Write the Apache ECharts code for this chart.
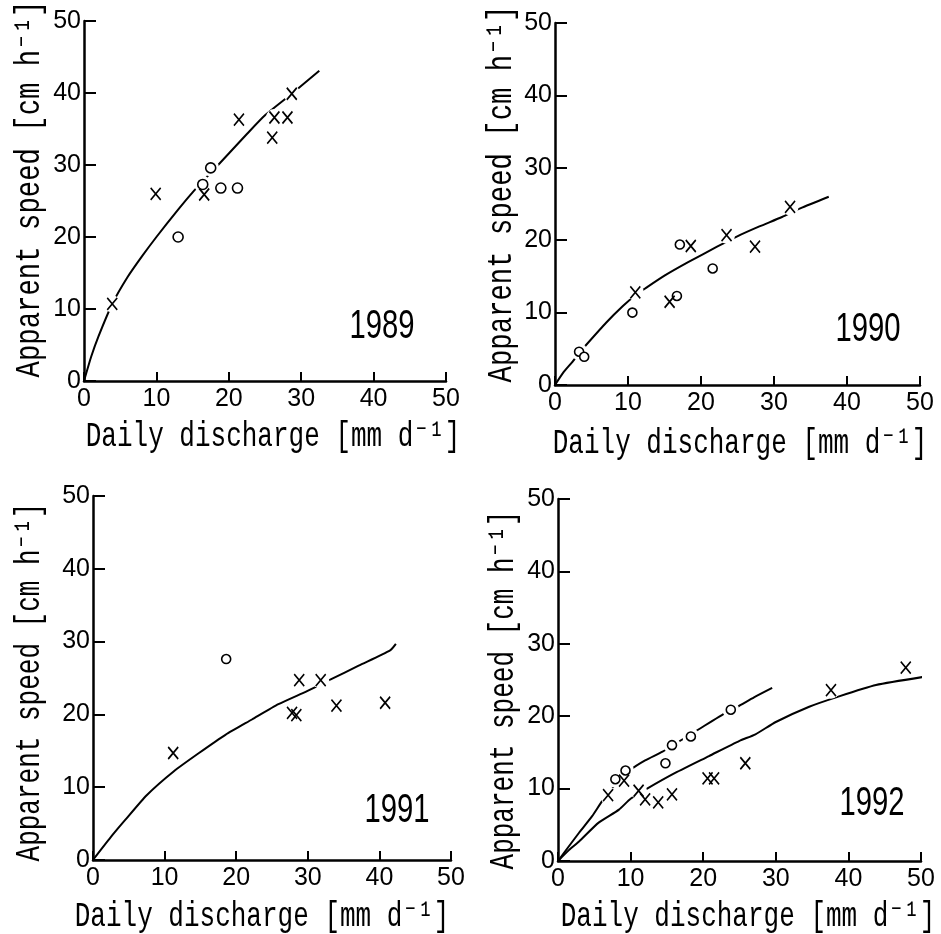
<!DOCTYPE html>
<html>
<head>
<meta charset="utf-8">
<script src="https://cdn.jsdelivr.net/npm/echarts@6/dist/echarts.min.js"></script>
<style>
  html, body { margin: 0; padding: 0; background: #fff; }
  #chart { width: 941px; height: 934px; }
</style>
</head>
<body>
<div id="chart"></div>
<script>
// Apparent speed of the wetting front vs. daily discharge, one panel per year.
// x = daily discharge [mm/d], y = apparent speed [cm/h]

const years = ['1989', '1990', '1991', '1992'];
const axisTicks = [0, 10, 20, 30, 40, 50];

// 1989
const cross1989 = [[3.9, 10.7], [9.9, 26.0], [16.6, 25.9], [21.4, 36.3], [26.0, 33.8], [26.3, 36.6], [28.1, 36.6], [28.7, 39.9]];
const circle1989 = [[13.0, 20.0], [16.4, 27.3], [17.5, 29.6], [18.9, 26.8], [21.2, 26.8]];
const curve1989 = [[0, 0], [1, 3.4], [2, 6.2], [3.9, 10.7], [6, 14.4], [8, 17.3], [10, 20.0], [13, 23.8], [15, 26.2], [17.5, 28.9], [20, 31.6], [22.5, 34.3], [25, 36.9], [28.7, 39.9], [32.5, 43.1]];

// 1990
const cross1990 = [[11.0, 12.8], [15.7, 11.5], [18.6, 19.2], [23.5, 20.7], [27.4, 19.1], [32.2, 24.6]];
const circle1990 = [[3.3, 4.6], [4.0, 3.9], [10.6, 10.0], [16.7, 12.3], [17.1, 19.4], [21.6, 16.1]];
const curve1990 = [[0, 0], [1.2, 1.8], [2.3, 3.1], [3.3, 4.4], [4.5, 5.8], [7.0, 8.6], [9.3, 10.9], [11.0, 12.4], [12.3, 13.3], [15.0, 15.1], [18.3, 17.0], [22.2, 19.1], [24.9, 20.5], [28.0, 21.9], [31.1, 23.2], [33.6, 24.4], [37.5, 26.0]];

// 1991
const cross1991 = [[11.2, 14.7], [27.8, 20.2], [28.4, 19.9], [28.8, 24.7], [31.8, 24.7], [34.0, 21.2], [40.8, 21.6]];
const circle1991 = [[18.6, 27.6]];
const curve1991 = [[0, 0], [2.7, 3.4], [4.5, 5.5], [7.5, 8.9], [11.3, 12.2], [14.8, 14.7], [18.5, 17.2], [22.2, 19.3], [25.9, 21.4], [29.9, 23.2], [33.2, 24.8], [37.1, 26.7], [41.5, 28.8], [42.3, 29.7]];

// 1992: two groups, each with its own fitted curve
const cross1992 = [[6.9, 9.1], [9.1, 11.1], [11.1, 9.7], [12.0, 8.5], [13.8, 8.1], [15.7, 9.2], [20.6, 11.4], [21.5, 11.4], [25.8, 13.5], [37.6, 23.6], [47.9, 26.7]];
const circle1992 = [[7.9, 11.3], [9.3, 12.5], [14.8, 13.5], [15.7, 16.0], [18.3, 17.2], [23.8, 20.9]];
const curve1992Circle = [[0, 0], [1.4, 1.9], [2.9, 3.9], [4.7, 6.2], [6.1, 8.3], [8.0, 10.7], [10.0, 12.6], [12.0, 13.9], [14.4, 15.1], [16.5, 16.4], [19.4, 18.2], [23.3, 20.6], [24.7, 21.3], [27.0, 22.6], [29.5, 23.9]];
const curve1992Cross = [[0, 0], [1.5, 1.5], [2.9, 2.7], [5.6, 5.3], [8.4, 7.1], [10.0, 8.6], [12.1, 9.9], [16.2, 12.2], [20.8, 14.5], [25.0, 16.6], [27.2, 17.5], [30.0, 19.2], [34.6, 21.3], [38.3, 22.6], [43.8, 24.3], [50.8, 25.5]];

const panels = [
  { cross: cross1989, circle: circle1989, curves: [curve1989] },
  { cross: cross1990, circle: circle1990, curves: [curve1990] },
  { cross: cross1991, circle: circle1991, curves: [curve1991] },
  { cross: cross1992, circle: circle1992, curves: [curve1992Circle, curve1992Cross] }
];

// plot areas (pixels)
const grids = [
  { left: 84, top: 21, width: 362, height: 360 },
  { left: 555, top: 23, width: 365, height: 362 },
  { left: 93, top: 496, width: 358, height: 364 },
  { left: 558, top: 499, width: 363, height: 362 }
];

// axis-title and year-label anchors, plus the along-text stretch of the y title
const layout = [
  { xt: [273, 437], yt: [30, 189], ys: 1.05, yr: [382, 327] },
  { xt: [740, 444], yt: [502, 194], ys: 1.05, yr: [868, 330] },
  { xt: [262, 917], yt: [30, 682], ys: 1.0, yr: [397, 811] },
  { xt: [748, 917], yt: [504, 690], ys: 1.0, yr: [872, 804] }
];

const tickFont = '"Liberation Sans", Arial, sans-serif';
const titleFont = '"Liberation Mono", "DejaVu Sans Mono", monospace';
const X_PATH = 'path://M0,0L10,12M10,0L0,12';

const xAxes = [], yAxes = [], series = [], graphics = [];

grids.forEach((g, i) => {
  xAxes.push({
    type: 'value', gridIndex: i, min: axisTicks[0], max: axisTicks[axisTicks.length - 1], interval: 10,
    axisLine: { show: true, onZero: false, lineStyle: { color: '#000', width: 2.5 } },
    axisTick: { show: true, inside: true, length: 9, lineStyle: { color: '#000', width: 2 } },
    axisLabel: { color: '#000', fontSize: 25, fontFamily: tickFont, margin: 6 },
    splitLine: { show: false }
  });
  yAxes.push({
    type: 'value', gridIndex: i, min: axisTicks[0], max: axisTicks[axisTicks.length - 1], interval: 10,
    axisLine: { show: true, onZero: false, lineStyle: { color: '#000', width: 2.5 } },
    axisTick: { show: true, inside: true, length: 12, lineStyle: { color: '#000', width: 2 } },
    axisLabel: { color: '#000', fontSize: 25, fontFamily: tickFont, margin: 3 },
    splitLine: { show: false }
  });

  const p = panels[i];
  p.curves.forEach(c => {
    series.push({
      type: 'line', xAxisIndex: i, yAxisIndex: i, data: c,
      symbol: 'none', smooth: 0.2, clip: false,
      lineStyle: { color: '#000', width: 2 }, z: 2, silent: true
    });
  });
  // white knock-out behind each marker, breaking the curve around it
  series.push({
    type: 'scatter', xAxisIndex: i, yAxisIndex: i, data: p.cross.concat(p.circle),
    symbol: 'circle', symbolSize: 17, itemStyle: { color: '#fff', opacity: 1 }, z: 3, silent: true
  });
  series.push({
    type: 'scatter', xAxisIndex: i, yAxisIndex: i, data: p.circle,
    symbol: 'circle', symbolSize: i === 0 ? 10 : 9,
    itemStyle: { color: '#fff', borderColor: '#000', borderWidth: 1.6, opacity: 1 }, z: 4, silent: true
  });
  series.push({
    type: 'scatter', xAxisIndex: i, yAxisIndex: i, data: p.cross,
    symbol: X_PATH, symbolSize: [10, 12],
    itemStyle: { color: 'none', borderColor: '#000', borderWidth: 1.7, opacity: 1 }, z: 5, silent: true
  });

  const L = layout[i];
  graphics.push({
    type: 'text', x: L.xt[0], y: L.xt[1], scaleY: 1.35,
    style: { text: 'Daily discharge [mm d\u207B\u00B9]', font: '26px ' + titleFont, fill: '#000',
             align: 'center', verticalAlign: 'middle', textAlign: 'center', textVerticalAlign: 'middle' }
  });
  graphics.push({
    type: 'text', x: L.yt[0], y: L.yt[1], rotation: Math.PI / 2, scaleX: L.ys, scaleY: 1.35,
    style: { text: 'Apparent speed [cm h\u207B\u00B9]', font: '26px ' + titleFont, fill: '#000',
             align: 'center', verticalAlign: 'middle', textAlign: 'center', textVerticalAlign: 'middle' }
  });
  graphics.push({
    type: 'text', x: L.yr[0], y: L.yr[1], scaleX: 0.73,
    style: { text: years[i], font: '40px ' + tickFont, fill: '#000',
             align: 'center', verticalAlign: 'middle', textAlign: 'center', textVerticalAlign: 'middle' }
  });
});

const chart = echarts.init(document.getElementById('chart'), null, { renderer: 'canvas' });
chart.setOption({
  animation: false,
  backgroundColor: '#fff',
  grid: grids,
  xAxis: xAxes,
  yAxis: yAxes,
  series: series,
  graphic: graphics
});
</script>
</body>
</html>
